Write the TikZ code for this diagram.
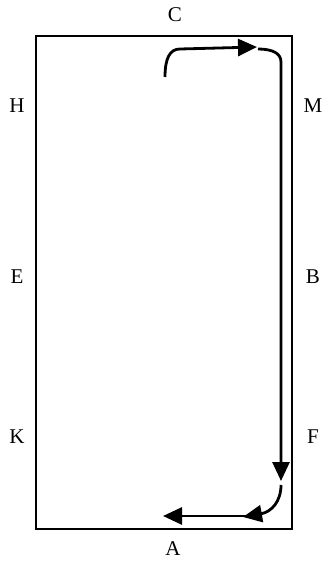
\documentclass[tikz,border=0pt]{standalone}
\usepackage{fontspec}
\setmainfont{Liberation Serif}
\usetikzlibrary{arrows.meta}
\begin{document}
\begin{tikzpicture}[x=1pt,y=-1pt,
  lbl/.style={font=\fontsize{21}{23}\selectfont, inner sep=0pt},
  flow/.style={line width=2.8pt, -{Triangle[length=19pt,width=17pt]}}]
\useasboundingbox (0,0) rectangle (328,568);
\draw[line width=2.8pt] (36,36) rectangle (292,529);
\node[lbl] (C) at (175,15) {C};
\node[lbl] (H) at (17,106) {H};
\node[lbl] (M) at (313,106) {M};
\node[lbl] (E) at (17,277) {E};
\node[lbl] (B) at (313,277) {B};
\node[lbl] (K) at (17,437) {K};
\node[lbl] (F) at (313,437) {F};
\node[lbl] (A) at (173,549) {A};
\coordinate (p1) at (165,77);
\coordinate (p2) at (180,49);
\coordinate (p3) at (257,47);
\coordinate (q1) at (258,49);
\coordinate (q2) at (281,62);
\coordinate (q3) at (281,481);
\coordinate (r1) at (281,485);
\coordinate (r2) at (243,517);
\coordinate (s1) at (262,516);
\coordinate (s2) at (163,516);
\draw[flow] (p1) .. controls (165,58) and (170,49) .. (p2) -- (p3);
\draw[flow] (q1) .. controls (272,49) and (281,53) .. (q2) -- (q3);
\draw[flow] (r1) .. controls (281,502) and (271,512) .. (r2);
\draw[flow] (s1) -- (s2);
\end{tikzpicture}
\end{document}
